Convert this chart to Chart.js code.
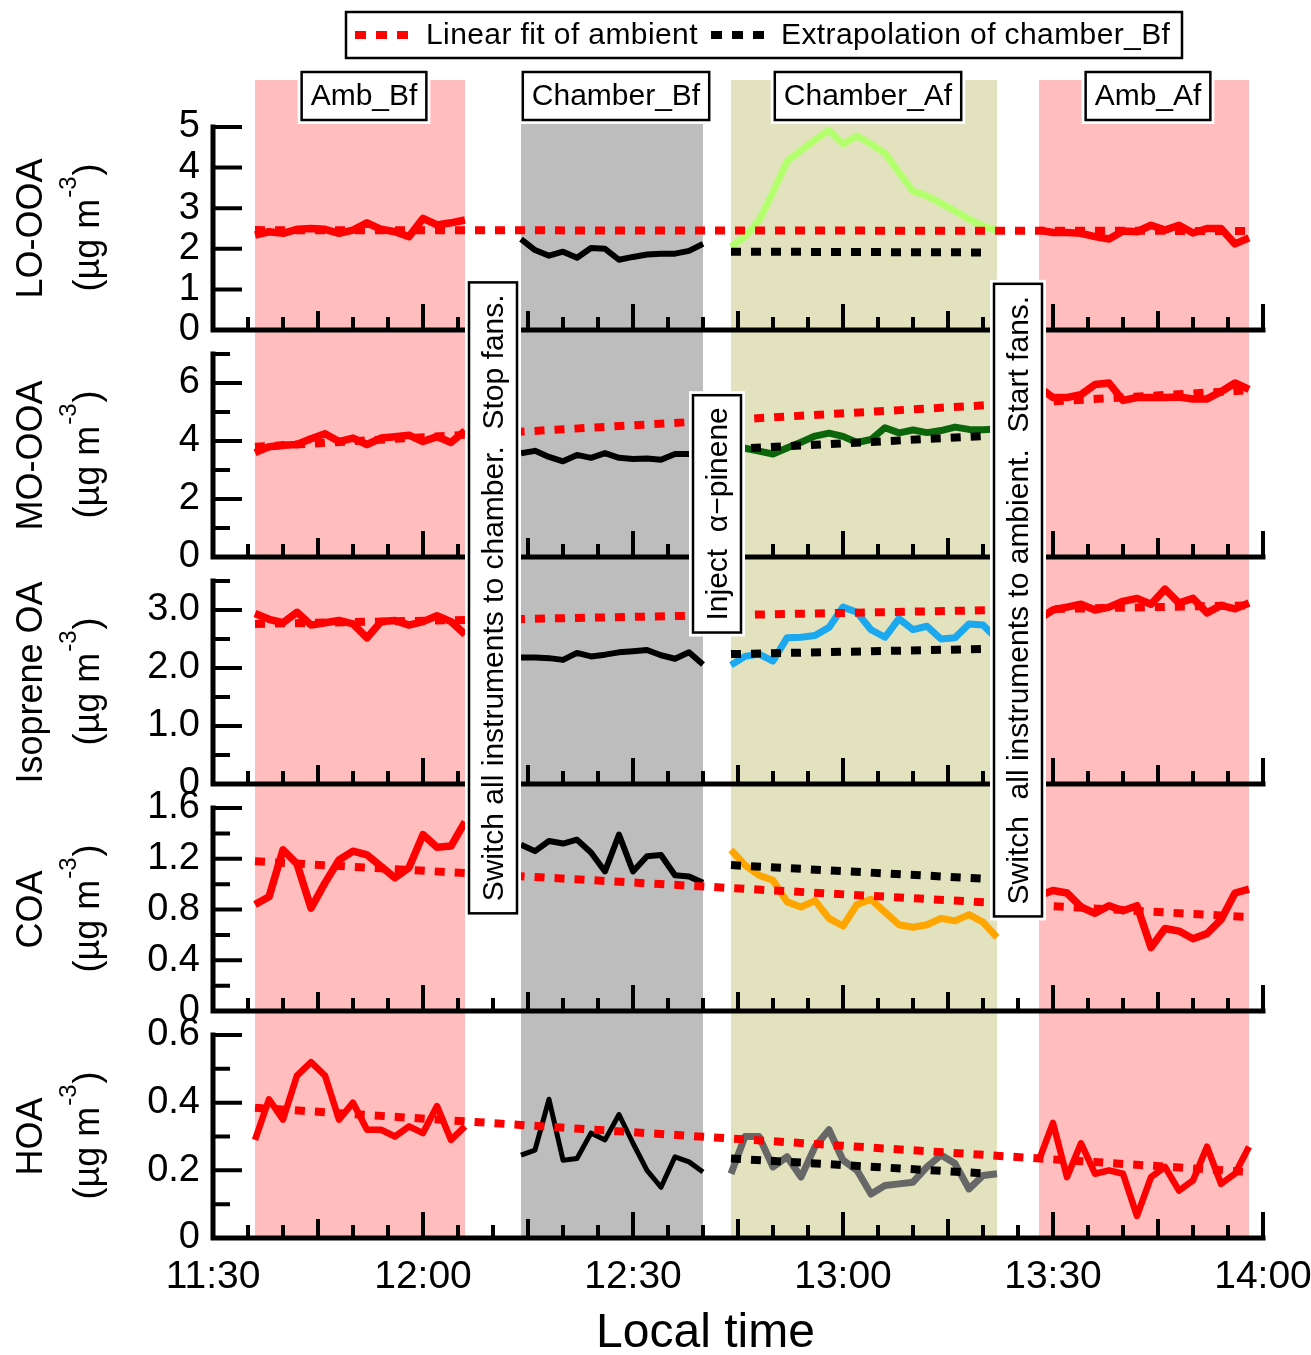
<!DOCTYPE html>
<html>
<head>
<meta charset="utf-8">
<title>OA factors: ambient vs chamber</title>
<script src="https://cdn.jsdelivr.net/npm/chart.js@4/dist/chart.umd.min.js"></script>
<style>
  html, body { margin: 0; padding: 0; background: #fff; }
  #wrap { width: 1311px; height: 1355px; }
</style>
</head>
<body>
<div id="wrap"><canvas id="oaChart" width="1311" height="1355"></canvas></div>
<script>
/* ====== Data (time = minutes after 11:30) ====== */
const tAmbBf  = [6, 8, 10, 12, 14, 16, 18, 20, 22, 24, 26, 28, 30, 32, 34, 36];
const tChamBf = [44, 46, 48, 50, 52, 54, 56, 58, 60, 62, 64, 66, 68, 70];
const tChamAf = [74, 76, 78, 80, 82, 84, 86, 88, 90, 92, 94, 96, 98, 100, 102, 104, 106, 108, 110, 112];
const tAmbAf  = [118, 120, 122, 124, 126, 128, 130, 132, 134, 136, 138, 140, 142, 144, 146, 148];
const tFit    = [6, 148];
const tExtrap = [74, 111];

// LO-OOA
const loAmbBf  = [2.34, 2.42, 2.38, 2.48, 2.50, 2.48, 2.38, 2.46, 2.64, 2.48, 2.42, 2.30, 2.75, 2.59, 2.64, 2.71];
const loChamBf = [2.24, 1.97, 1.83, 1.93, 1.78, 2.02, 2.00, 1.73, 1.80, 1.86, 1.88, 1.88, 1.95, 2.12];
const loChamAf = [2.05, 2.30, 2.70, 3.40, 4.15, 4.42, 4.68, 4.92, 4.58, 4.78, 4.58, 4.35, 3.88, 3.42, 3.30, 3.12, 2.93, 2.73, 2.56, 2.45];
const loAmbAf  = [2.46, 2.40, 2.40, 2.38, 2.30, 2.24, 2.44, 2.42, 2.58, 2.46, 2.58, 2.39, 2.50, 2.50, 2.12, 2.27];
const loFit = [2.46, 2.44];
const loExt = [1.93, 1.91];

// MO-OOA
const moAmbBf  = [3.60, 3.80, 3.85, 3.88, 4.08, 4.25, 3.98, 4.10, 3.88, 4.10, 4.15, 4.20, 3.98, 4.15, 3.95, 4.35];
const moChamBf = [3.58, 3.66, 3.45, 3.30, 3.52, 3.42, 3.58, 3.42, 3.38, 3.40, 3.35, 3.55, 3.55, 3.56];
const moChamAf = [3.68, 3.75, 3.65, 3.55, 3.76, 3.96, 4.17, 4.27, 4.16, 3.95, 4.05, 4.46, 4.28, 4.38, 4.29, 4.36, 4.48, 4.40, 4.39, 4.41];
const moAmbAf  = [5.85, 5.50, 5.50, 5.60, 5.95, 6.00, 5.40, 5.50, 5.50, 5.50, 5.52, 5.45, 5.45, 5.70, 6.00, 5.78];
const moFit = [3.80, 5.75];
const moExt = [3.72, 4.18];

// Isoprene OA
const isoAmbBf  = [2.94, 2.84, 2.78, 2.96, 2.74, 2.78, 2.82, 2.76, 2.52, 2.80, 2.82, 2.74, 2.80, 2.90, 2.80, 2.58];
const isoChamBf = [2.18, 2.18, 2.17, 2.14, 2.26, 2.20, 2.23, 2.27, 2.29, 2.31, 2.22, 2.16, 2.27, 2.06];
const isoChamAf = [2.05, 2.20, 2.24, 2.12, 2.52, 2.53, 2.56, 2.70, 3.05, 2.96, 2.66, 2.53, 2.85, 2.66, 2.72, 2.50, 2.52, 2.76, 2.74, 2.50];
const isoAmbAf  = [2.85, 3.00, 3.05, 3.10, 3.00, 3.05, 3.15, 3.20, 3.10, 3.36, 3.12, 3.20, 2.95, 3.08, 3.02, 3.12];
const isoFit = [2.76, 3.08];
const isoExt = [2.24, 2.33];

// COA
const coaAmbBf  = [0.84, 0.90, 1.27, 1.16, 0.81, 1.01, 1.19, 1.26, 1.23, 1.14, 1.05, 1.13, 1.39, 1.29, 1.30, 1.49];
const coaChamBf = [1.31, 1.26, 1.34, 1.32, 1.35, 1.25, 1.10, 1.39, 1.10, 1.22, 1.23, 1.07, 1.06, 1.01];
const coaChamAf = [1.27, 1.15, 1.07, 1.03, 0.86, 0.82, 0.87, 0.73, 0.67, 0.84, 0.88, 0.78, 0.68, 0.66, 0.68, 0.73, 0.71, 0.76, 0.70, 0.58];
const coaAmbAf  = [0.91, 0.95, 0.93, 0.82, 0.77, 0.83, 0.79, 0.83, 0.50, 0.65, 0.63, 0.57, 0.61, 0.72, 0.93, 0.96];
const coaFit = [1.18, 0.74];
const coaExt = [1.15, 1.04];

// HOA
const hoaAmbBf  = [0.29, 0.41, 0.35, 0.48, 0.52, 0.48, 0.35, 0.40, 0.32, 0.32, 0.30, 0.33, 0.31, 0.39, 0.29, 0.33];
const hoaChamBf = [0.245, 0.26, 0.41, 0.23, 0.235, 0.31, 0.29, 0.365, 0.28, 0.20, 0.15, 0.24, 0.225, 0.195];
const hoaChamAf = [0.19, 0.30, 0.30, 0.21, 0.24, 0.18, 0.27, 0.32, 0.23, 0.20, 0.13, 0.155, 0.16, 0.165, 0.21, 0.245, 0.22, 0.145, 0.185, 0.19];
const hoaAmbAf  = [0.23, 0.34, 0.18, 0.28, 0.19, 0.20, 0.19, 0.065, 0.18, 0.21, 0.14, 0.17, 0.27, 0.16, 0.19, 0.27];
const hoaFit = [0.385, 0.195];
const hoaExt = [0.235, 0.19];

// ticks
const xTickMinutes = [0, 30, 60, 90, 120, 150];
const xTickLabels = ["11:30", "12:00", "12:30", "13:00", "13:30", "14:00"];
const loTicks = [0, 1, 2, 3, 4, 5];           const loTickLabels = ["0", "1", "2", "3", "4", "5"];     const loMinor = [];
const moTicks = [0, 2, 4, 6];                 const moTickLabels = ["0", "2", "4", "6"];               const moMinor = [1, 3, 5, 7];
const isoTicks = [0, 1, 2, 3];                const isoTickLabels = ["0", "1.0", "2.0", "3.0"];        const isoMinor = [0.5, 1.5, 2.5, 3.5];
const coaTicks = [0, 0.4, 0.8, 1.2, 1.6];     const coaTickLabels = ["0", "0.4", "0.8", "1.2", "1.6"]; const coaMinor = [0.2, 0.6, 1.0, 1.4];
const hoaTicks = [0, 0.2, 0.4, 0.6];          const hoaTickLabels = ["0", "0.2", "0.4", "0.6"];        const hoaMinor = [0.1, 0.3, 0.5];

// periods & events
const periodNames = ["Amb_Bf", "Chamber_Bf", "Chamber_Af", "Amb_Af"];
const periodStart = [6, 44, 74, 118];
const periodEnd   = [36, 70, 112, 148];
const eventTimes  = [40, 72, 115];
const eventTexts  = ["Switch all instruments to chamber.  Stop fans.", "Inject  \u03B1\u2212pinene", "Switch  all instruments to ambient.  Start fans."];

/* ====== Styles ====== */
const FONT = "'Liberation Sans', Arial, Helvetica, sans-serif";
const periodColors = ["#ffbdbd", "#bdbdbd", "#e2e2bf", "#ffbdbd"];
const eventYFrac = [0.436, 0.362, 0.438];
const RED = "#ff0000";
const SLOT = 227 / 203; // panel height + gap over panel height

const panels = [
  { id: "yLO",  title: "LO-OOA",      max: 5,   ticks: loTicks,  labels: loTickLabels,  minor: loMinor,  color: "#b4ff6e", data: [loAmbBf, loChamBf, loChamAf, loAmbAf],     fit: loFit,  ext: loExt,  w: 6 },
  { id: "yMO",  title: "MO-OOA",      max: 7,   ticks: moTicks,  labels: moTickLabels,  minor: moMinor,  color: "#0b660b", data: [moAmbBf, moChamBf, moChamAf, moAmbAf],     fit: moFit,  ext: moExt,  w: 6 },
  { id: "yISO", title: "Isoprene OA", max: 3.5, ticks: isoTicks, labels: isoTickLabels, minor: isoMinor, color: "#1ba8ef", data: [isoAmbBf, isoChamBf, isoChamAf, isoAmbAf], fit: isoFit, ext: isoExt, w: 6 },
  { id: "yCOA", title: "COA",         max: 1.6, ticks: coaTicks, labels: coaTickLabels, minor: coaMinor, color: "#ffa500", data: [coaAmbBf, coaChamBf, coaChamAf, coaAmbAf], fit: coaFit, ext: coaExt, w: 6 },
  { id: "yHOA", title: "HOA",         max: 0.6, ticks: hoaTicks, labels: hoaTickLabels, minor: hoaMinor, color: "#676767", data: [hoaAmbBf, hoaChamBf, hoaChamAf, hoaAmbAf], fit: hoaFit, ext: hoaExt, w: 5 },
];

function pts(times, vals) { return times.map((t, i) => ({ x: t, y: vals[i] })); }

// ========== datasets ==========
const datasets = [];
panels.forEach((p) => {
  datasets.push({ label: "Linear fit of ambient", yAxisID: p.id, data: pts(tFit, p.fit),
    borderColor: RED, borderWidth: 8, borderDash: [10, 10], borderCapStyle: "butt" });
  datasets.push({ label: "Extrapolation of chamber_Bf", yAxisID: p.id, data: pts(tExtrap, p.ext),
    borderColor: "#000", borderWidth: 8, borderDash: [10, 10], borderCapStyle: "butt" });
  datasets.push({ label: p.title + " Chamber_Af", yAxisID: p.id, data: pts(tChamAf, p.data[2]), borderColor: p.color, borderWidth: 7 });
  datasets.push({ label: p.title + " Chamber_Bf", yAxisID: p.id, data: pts(tChamBf, p.data[1]), borderColor: "#000", borderWidth: p.w });
  datasets.push({ label: p.title + " Amb_Bf", yAxisID: p.id, data: pts(tAmbBf, p.data[0]), borderColor: RED, borderWidth: p.w + 1.5 });
  datasets.push({ label: p.title + " Amb_Af", yAxisID: p.id, data: pts(tAmbAf, p.data[3]), borderColor: RED, borderWidth: p.w + 1.5 });
});

// ========== scales ==========
const scales = {
  x: {
    type: "linear", position: "bottom", min: 0, max: 150,
    grid: { display: false, drawTicks: false }, border: { display: false },
    afterBuildTicks: (s) => { s.ticks = xTickMinutes.map((v) => ({ value: v })); },
    ticks: { callback: (v, i) => xTickLabels[i], color: "#000", font: { family: FONT, size: 39 }, padding: 16, maxRotation: 0, autoSkip: false },
    afterFit: (s) => { s.height = 117; s.paddingLeft = 0; s.paddingRight = 0; },
  },
};
panels.forEach((p, k) => {
  scales[p.id] = {
    type: "linear", position: "left", stack: "oa", stackWeight: 1, weight: 10 - k,
    min: 0, max: p.max * SLOT,
    grid: { display: false, drawTicks: false }, border: { display: false },
    afterBuildTicks: (s) => { s.ticks = p.ticks.map((v) => ({ value: v })); },
    ticks: { callback: (v, i) => p.labels[i], color: "#000", font: { family: FONT, size: 38 }, padding: 13, autoSkip: false },
    afterFit: (s) => { s.width = 213; s.paddingTop = 0; s.paddingBottom = 0; },
  };
});

// ========== drawing helpers ==========
function boxWithHalo(ctx, x, y, w, h) {
  ctx.fillStyle = "#fff";
  ctx.fillRect(x - 4, y - 4, w + 8, h + 8);
  ctx.strokeStyle = "#000";
  ctx.lineWidth = 2.5;
  ctx.strokeRect(x, y, w, h);
}

const decor = {
  id: "decor",
  beforeDatasetsDraw(chart) {
    const { ctx, chartArea: a, scales: { x } } = chart;
    ctx.save();
    periodStart.forEach((t0, i) => {
      const x0 = x.getPixelForValue(t0), x1 = x.getPixelForValue(periodEnd[i]);
      ctx.fillStyle = periodColors[i];
      ctx.fillRect(x0, a.top - 23, x1 - x0, a.bottom - a.top + 25);
    });
    ctx.restore();
  },
  afterDatasetsDraw(chart) {
    const { ctx, chartArea: a, scales: { x } } = chart;
    ctx.save();

    // ---- axes & ticks per panel ----
    panels.forEach((p) => {
      const ys = chart.scales[p.id];
      const y0 = ys.getPixelForValue(0), yTop = ys.getPixelForValue(p.max);
      ctx.strokeStyle = "#000";
      ctx.lineWidth = 5;
      ctx.lineCap = "square";
      ctx.beginPath();
      ctx.moveTo(a.left, yTop);
      ctx.lineTo(a.left, y0);
      ctx.lineTo(a.right, y0);
      ctx.stroke();
      ctx.lineWidth = 4;
      ctx.lineCap = "butt";
      ctx.beginPath();
      p.ticks.forEach((v) => { const y = ys.getPixelForValue(v); ctx.moveTo(a.left, y); ctx.lineTo(a.left + 29, y); });
      p.minor.forEach((v) => { const y = ys.getPixelForValue(v); ctx.moveTo(a.left, y); ctx.lineTo(a.left + 17, y); });
      for (let m = 5; m <= 150; m += 5) {
        const px = x.getPixelForValue(m);
        const len = m % 30 === 0 ? 26 : (m % 15 === 0 ? 19 : 13);
        ctx.moveTo(px, y0);
        ctx.lineTo(px, y0 - len);
      }
      ctx.stroke();
    });

    // ---- event boxes (vertical text) ----
    ctx.font = `30px ${FONT}`;
    eventTimes.forEach((t, i) => {
      const cx = x.getPixelForValue(t);
      const cy = a.top + eventYFrac[i] * (a.bottom - a.top);
      const len = ctx.measureText(eventTexts[i]).width + 24;
      boxWithHalo(ctx, cx - 24, cy - len / 2, 48, len);
      ctx.save();
      ctx.translate(cx, cy);
      ctx.rotate(-Math.PI / 2);
      ctx.fillStyle = "#000";
      ctx.textAlign = "center";
      ctx.textBaseline = "middle";
      ctx.fillText(eventTexts[i], 0, 2);
      ctx.restore();
    });

    // ---- period labels ----
    ctx.font = `30px ${FONT}`;
    periodNames.forEach((name, i) => {
      const cx = (x.getPixelForValue(periodStart[i]) + x.getPixelForValue(periodEnd[i])) / 2 + 4;
      const w = ctx.measureText(name).width + 18;
      boxWithHalo(ctx, cx - w / 2, a.top - 31, w, 48);
      ctx.fillStyle = "#000";
      ctx.textAlign = "center";
      ctx.textBaseline = "middle";
      ctx.fillText(name, cx, a.top - 6);
    });

    // ---- legend ----
    const fitDs = chart.data.datasets[0], extDs = chart.data.datasets[1];
    const lx = 346, ly = 12, lw = 836, lh = 46;
    ctx.fillStyle = "#fff";
    ctx.fillRect(lx, ly, lw, lh);
    ctx.strokeStyle = "#000";
    ctx.lineWidth = 2.5;
    ctx.strokeRect(lx, ly, lw, lh);
    const drawSample = (sx, color) => {
      ctx.save();
      ctx.strokeStyle = color;
      ctx.lineWidth = 8;
      ctx.setLineDash([11, 10]);
      ctx.beginPath();
      ctx.moveTo(sx, ly + 23);
      ctx.lineTo(sx + 53, ly + 23);
      ctx.stroke();
      ctx.restore();
    };
    ctx.fillStyle = "#000";
    ctx.textAlign = "left";
    ctx.textBaseline = "middle";
    ctx.font = `30px ${FONT}`;
    ctx.letterSpacing = "0.4px";
    drawSample(lx + 9, fitDs.borderColor);
    ctx.fillText(fitDs.label, lx + 80, ly + 24);
    drawSample(lx + 365, extDs.borderColor);
    ctx.fillText(extDs.label, lx + 435, ly + 24);
    ctx.letterSpacing = "0px";

    // ---- y titles ----
    panels.forEach((p) => {
      const ys = chart.scales[p.id];
      const cy = (ys.getPixelForValue(0) + ys.getPixelForValue(p.max)) / 2;
      ctx.fillStyle = "#000";
      ctx.textBaseline = "middle";
      ctx.save();
      ctx.translate(32, cy);
      ctx.rotate(-Math.PI / 2);
      ctx.font = `36px ${FONT}`;
      ctx.textAlign = "center";
      ctx.fillText(p.title, 0, 0);
      ctx.restore();

      ctx.save();
      ctx.translate(89, cy);
      ctx.rotate(-Math.PI / 2);
      ctx.textAlign = "left";
      ctx.font = `36px ${FONT}`;
      const a1 = "(\u00B5g m", a2 = ")";
      const u1 = ctx.measureText(a1).width, u3 = ctx.measureText(a2).width;
      ctx.font = `24px ${FONT}`;
      const u2 = ctx.measureText("-3").width;
      const s0 = -(u1 + u2 + u3) / 2;
      ctx.font = `36px ${FONT}`;
      ctx.fillText(a1, s0, 0);
      ctx.font = `24px ${FONT}`;
      ctx.fillText("-3", s0 + u1 + 1, -20);
      ctx.font = `36px ${FONT}`;
      ctx.fillText(a2, s0 + u1 + u2 + 2, 0);
      ctx.restore();
    });

    // ---- x title ----
    ctx.font = `48px ${FONT}`;
    ctx.textAlign = "center";
    ctx.textBaseline = "middle";
    ctx.fillText("Local time", a.left + 0.469 * (a.right - a.left), 1334);

    ctx.restore();
  },
};

// ========== chart ==========
new Chart(document.getElementById("oaChart").getContext("2d"), {
  type: "line",
  data: { datasets },
  options: {
    responsive: false,
    animation: false,
    devicePixelRatio: 1,
    layout: { padding: { top: 103, right: 48, bottom: 0, left: 0 } },
    elements: { point: { radius: 0 }, line: { tension: 0, borderJoinStyle: "round" } },
    plugins: { legend: { display: false }, tooltip: { enabled: false } },
    scales,
  },
  plugins: [decor],
});
</script>
</body>
</html>
